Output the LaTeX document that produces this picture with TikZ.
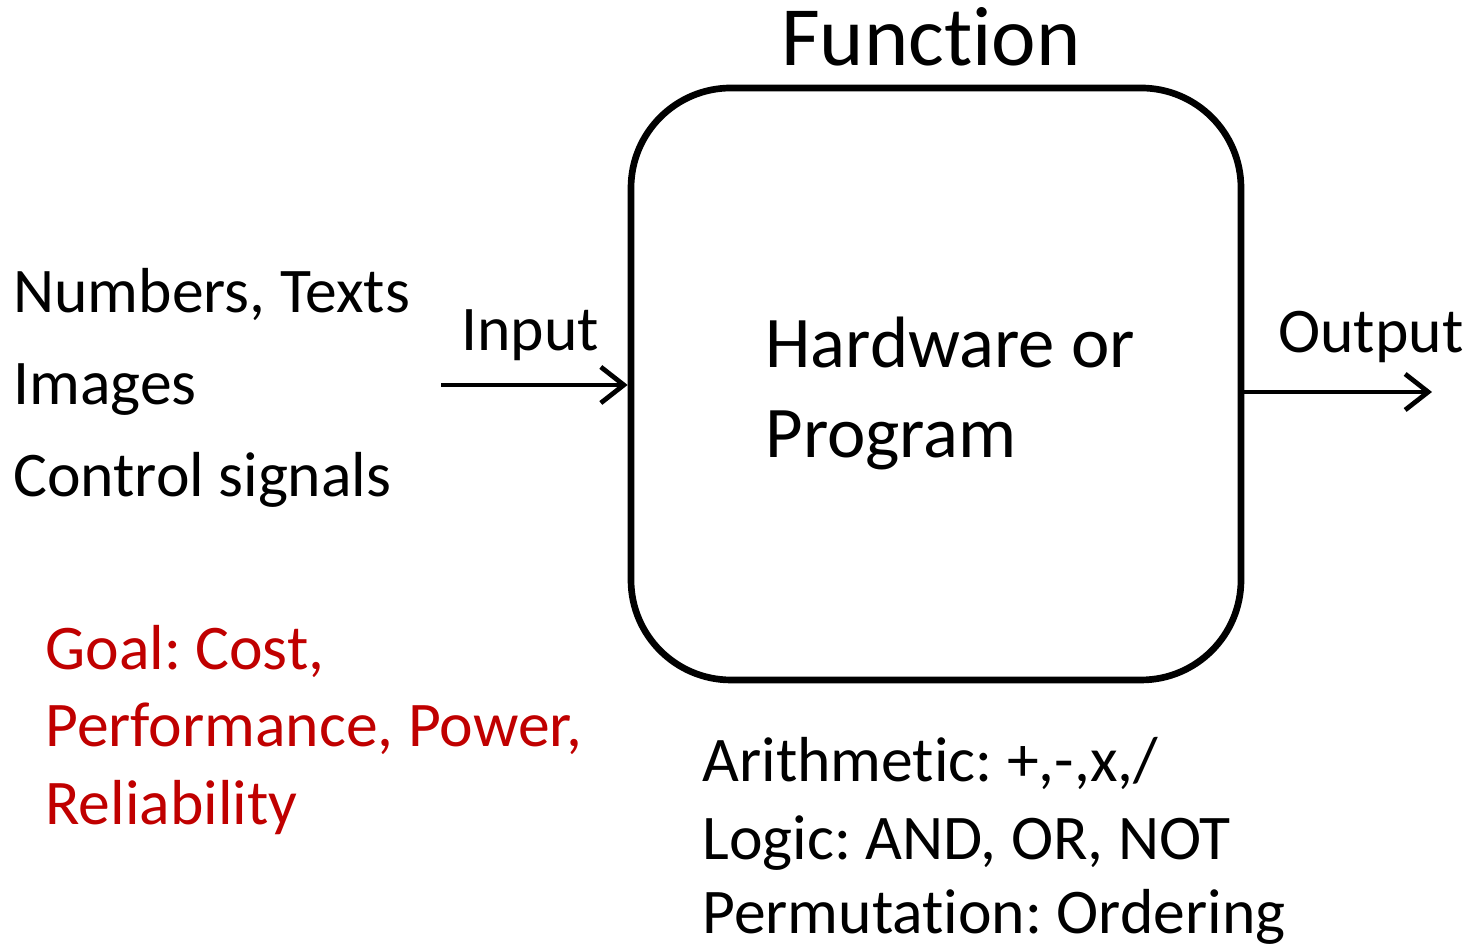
\documentclass[tikz,border=0pt]{standalone}
\usepackage{xcolor}
\usepackage{fontspec}
\setmainfont{Carlito}[Ligatures=NoCommon]
\usepackage{tikz}
\usetikzlibrary{arrows.meta}
\usetikzlibrary{positioning}
\definecolor{goalred}{RGB}{192,0,0}
\frenchspacing
\tikzset{
    txtnode/.style = {inner sep=0pt, anchor=base west, font=\fontsize{18.1}{22}\selectfont},
    rednode/.style = {txtnode, text=goalred},
    boxnode/.style = {draw=black, line width=1.9pt, rounded corners=1cm, minimum width=6.1cm, minimum height=5.92cm},
}
\begin{document}
\begin{tikzpicture}[
	scale=1,
	thick
]
\tikzset{
    edgea/.style = {-{Straight Barb[length=2.3mm,width=3.6mm]}, line width=1.35pt}
}
\useasboundingbox (0,0) rectangle (14.69,9.45);
\node[boxnode] at (9.36,5.61) (box) {};
\node[inner sep=0pt, anchor=base, font=\fontsize{24}{28}\selectfont] at (9.31,8.79) (func) {Function};
\node[txtnode, font=\fontsize{20.7}{24}\selectfont] at (7.64,5.77) (hw) {Hardware or};
\node[txtnode, font=\fontsize{20.7}{24}\selectfont] at (7.64,4.87) (prog) {Program};
%
\node[txtnode] at (0.12,6.32) (num) {Numbers, Texts};
\node[txtnode] at (0.12,5.40) (img) {Images};
\node[txtnode] at (0.12,4.48) (ctl) {Control signals};
%
\node[txtnode] at (4.60,5.94) (in) {Input};
\node[txtnode] at (12.77,5.92) (out) {Output};
\coordinate (inL) at (4.41,5.60);
\coordinate (outR) at (14.32,5.53);
\draw[edgea] (inL) -- (inL -| box.west);
\draw[edgea] (box.east |- outR) -- (outR);
%
\node[rednode] at (0.44,2.75) (goal) {Goal: Cost,};
\node[rednode] at (0.44,1.98) (perf) {Performance, Power,};
\node[rednode] at (0.44,1.20) (rel) {Reliability};
%
\node[txtnode] at (7.01,1.63) (arith) {Arithmetic: +,-,x,/};
\node[txtnode] at (7.01,0.85) (logic) {Logic: AND, OR, NOT};
\node[txtnode] at (7.01,0.11) (perm) {Permutation: Ordering};
\end{tikzpicture}
\end{document}
